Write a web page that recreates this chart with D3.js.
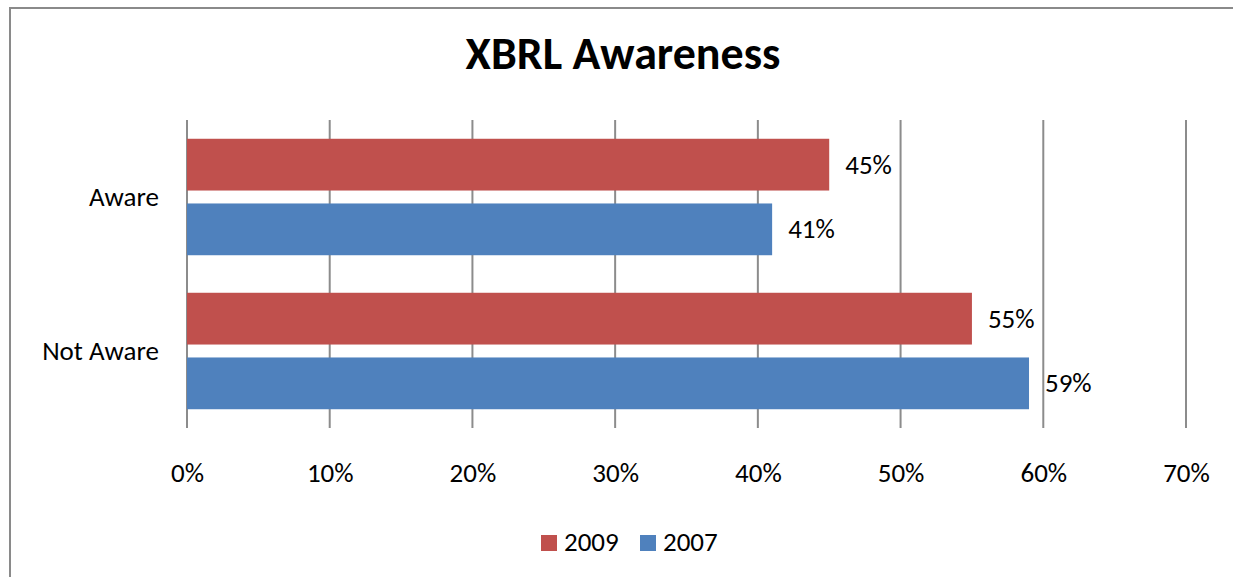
<!DOCTYPE html>
<html>
<head>
<meta charset="utf-8">
<script src="https://cdn.jsdelivr.net/npm/d3@7"></script>
<style>
  body { margin: 0; background: #fff; }
  text { font-family: Carlito, "Open Sans", sans-serif; fill: #000; }
</style>
</head>
<body>
<script>
// chart size
var width = 1233;
var height = 577;
var labelSize = "27px";

// data
var categories = ["Aware", "Not Aware"];
var seriesNames = ["2009", "2007"];
var values2009 = [45, 55];
var values2007 = [41, 59];
var tickValues = [0, 10, 20, 30, 40, 50, 60, 70];
var colors = ["#C0504D", "#4F81BD"];

var seriesValues = [values2009, values2007];

var svg = d3.select("body")
    .append("svg")
    .attr("width", width)
    .attr("height", height);

// chart border (runs off the bottom/right of the picture)
svg.append("rect")
    .attr("x", 10)
    .attr("y", 8)
    .attr("width", 1240)
    .attr("height", 600)
    .style("fill", "none")
    .style("stroke", "#8a8a8a")
    .style("stroke-width", 2);

// title
svg.append("text")
    .attr("x", 623)
    .attr("y", 69)
    .attr("text-anchor", "middle")
    .style("font-size", "46px")
    .style("font-weight", "bold")
    .text("XBRL Awareness");

// scales
var x = d3.scaleLinear()
    .domain([0, 70])
    .range([187, 1186]);

var y = d3.scaleBand()
    .domain(categories)
    .range([120, 428]);

var ySeries = d3.scaleBand()
    .domain(seriesNames)
    .range([0, y.bandwidth()])
    .paddingInner(0.2)
    .paddingOuter(0.29);

// vertical gridlines
svg.append("g")
    .selectAll("line")
    .data(tickValues)
    .enter()
    .append("line")
    .attr("x1", function(d) { return x(d); })
    .attr("x2", function(d) { return x(d); })
    .attr("y1", y.range()[0])
    .attr("y2", y.range()[1])
    .style("stroke", "#8c8c8c")
    .style("stroke-width", 2);

// x axis labels
var xAxis = d3.axisBottom(x)
    .tickValues(tickValues)
    .tickSize(0)
    .tickPadding(0)
    .tickFormat(function(d) { return d + "%"; });

var axisG = svg.append("g")
    .attr("transform", "translate(0,463)")
    .call(xAxis);
axisG.select(".domain").remove();
axisG.selectAll("text")
    .attr("dy", "0.71em")
    .style("font-size", labelSize)
    .style("font-family", null);

// category labels
svg.append("g")
    .selectAll("text")
    .data(categories)
    .enter()
    .append("text")
    .attr("x", 159)
    .attr("y", function(d) { return y(d) + y.bandwidth() / 2 + 9; })
    .attr("text-anchor", "end")
    .style("font-size", labelSize)
    .text(function(d) { return d; });

// bars
var groups = svg.append("g")
    .selectAll("g")
    .data(categories)
    .enter()
    .append("g")
    .attr("transform", function(d) { return "translate(0," + y(d) + ")"; });

groups.selectAll("rect")
    .data(function(d, i) {
        return seriesNames.map(function(s, j) {
            return { series: s, value: seriesValues[j][i], color: colors[j] };
        });
    })
    .enter()
    .append("rect")
    .attr("x", x(0))
    .attr("y", function(d) { return ySeries(d.series); })
    .attr("width", function(d) { return x(d.value) - x(0); })
    .attr("height", ySeries.bandwidth())
    .style("fill", function(d) { return d.color; });

// value labels
groups.selectAll("text")
    .data(function(d, i) {
        return seriesNames.map(function(s, j) {
            return { series: s, value: seriesValues[j][i] };
        });
    })
    .enter()
    .append("text")
    .attr("x", function(d) { return x(d.value) + 16; })
    .attr("y", function(d) { return ySeries(d.series) + ySeries.bandwidth() / 2 + 9; })
    .style("font-size", labelSize)
    .text(function(d) { return d.value + "%"; });

// legend
var legendX = [541, 640];
var legend = svg.append("g")
    .selectAll("g")
    .data(seriesNames)
    .enter()
    .append("g")
    .attr("transform", function(d, i) { return "translate(" + legendX[i] + ",535)"; });

legend.append("rect")
    .attr("width", 16)
    .attr("height", 16)
    .style("fill", function(d, i) { return colors[i]; });

legend.append("text")
    .attr("x", 23)
    .attr("y", 16)
    .style("font-size", labelSize)
    .text(function(d) { return d; });
</script>
</body>
</html>
